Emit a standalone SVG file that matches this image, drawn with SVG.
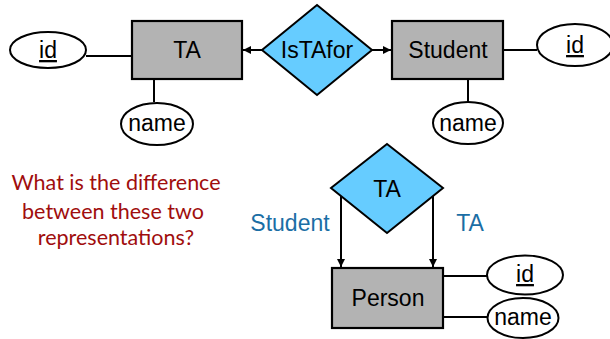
<svg xmlns="http://www.w3.org/2000/svg" width="610" height="339" viewBox="0 0 610 339">
<style>
.ent{fill:#b3b3b3;stroke:#000;stroke-width:2.2}
.rel{fill:#66ccff;stroke:#000;stroke-width:2}
.att{fill:#fff;stroke:#000;stroke-width:2}
.lbl{font-family:"Liberation Sans",Arial,sans-serif;font-size:23px;fill:#000;text-anchor:middle}
.key{text-decoration:underline}
.role{font-family:"Liberation Sans",Arial,sans-serif;font-size:23px;fill:#1b6ea5;text-anchor:middle}
.q{font-family:Lato,"Open Sans",sans-serif;font-size:21.5px;fill:#a00d0d;text-anchor:middle}
.ln{stroke:#000;stroke-width:2;fill:none}
</style>
<defs>
<marker id="arr" viewBox="0 0 10 10" refX="10" refY="5" markerWidth="4" markerHeight="4" orient="auto" markerUnits="strokeWidth">
<path d="M0,0 L10,5 L0,10 z" fill="#000"/>
</marker>
</defs>
<g id="connectors">
<line class="ln" x1="86" y1="56" x2="132" y2="56"/>
<line class="ln" x1="154" y1="79" x2="154" y2="102"/>
<line class="ln" x1="262" y1="50" x2="243" y2="50" marker-end="url(#arr)"/>
<line class="ln" x1="372" y1="50" x2="391" y2="50" marker-end="url(#arr)"/>
<line class="ln" x1="503" y1="50" x2="537" y2="50"/>
<line class="ln" x1="468" y1="79" x2="468" y2="102"/>
<line class="ln" x1="341" y1="196" x2="341" y2="267" marker-end="url(#arr)"/>
<line class="ln" x1="433" y1="196" x2="433" y2="267" marker-end="url(#arr)"/>
<line class="ln" x1="443" y1="276" x2="487" y2="276"/>
<line class="ln" x1="443" y1="317" x2="487" y2="317"/>
</g>
<g id="id-ta">
<ellipse class="att" cx="48" cy="50" rx="38" ry="18"/>
<text class="lbl key" x="48" y="58">id</text>
</g>
<g id="ta">
<rect class="ent" x="132" y="21" width="110" height="58"/>
<text class="lbl" x="187" y="58">TA</text>
</g>
<g id="name-ta">
<ellipse class="att" cx="157" cy="124" rx="36" ry="21"/>
<text class="lbl" x="157" y="131">name</text>
</g>
<g id="istafor">
<polygon class="rel" points="317,5 372,50 317,95 262,50"/>
<text class="lbl" x="317" y="58">IsTAfor</text>
</g>
<g id="student">
<rect class="ent" x="392" y="21" width="111" height="58"/>
<text class="lbl" x="448" y="58">Student</text>
</g>
<g id="id-student">
<ellipse class="att" cx="575" cy="45" rx="38" ry="21"/>
<text class="lbl key" x="575" y="53">id</text>
</g>
<g id="name-student">
<ellipse class="att" cx="468" cy="123" rx="35" ry="21"/>
<text class="lbl" x="468" y="131">name</text>
</g>
<g id="question">
<text class="q" x="116" y="190">What is the difference</text>
<text class="q" x="113" y="219">between these two</text>
<text class="q" x="116" y="245">representations?</text>
</g>
<g id="ta-rel">
<polygon class="rel" points="387,144 443,188 387,233 331,188"/>
<text class="lbl" x="387" y="197">TA</text>
</g>
<g id="roles">
<text class="role" x="290" y="231">Student</text>
<text class="role" x="470" y="231">TA</text>
</g>
<g id="person">
<rect class="ent" x="332" y="268" width="111" height="60"/>
<text class="lbl" x="388" y="306">Person</text>
</g>
<g id="id-person">
<ellipse class="att" cx="525" cy="275" rx="38" ry="19.5"/>
<text class="lbl key" x="525" y="282">id</text>
</g>
<g id="name-person">
<ellipse class="att" cx="523" cy="318" rx="35.5" ry="20"/>
<text class="lbl" x="523" y="325">name</text>
</g>
</svg>
